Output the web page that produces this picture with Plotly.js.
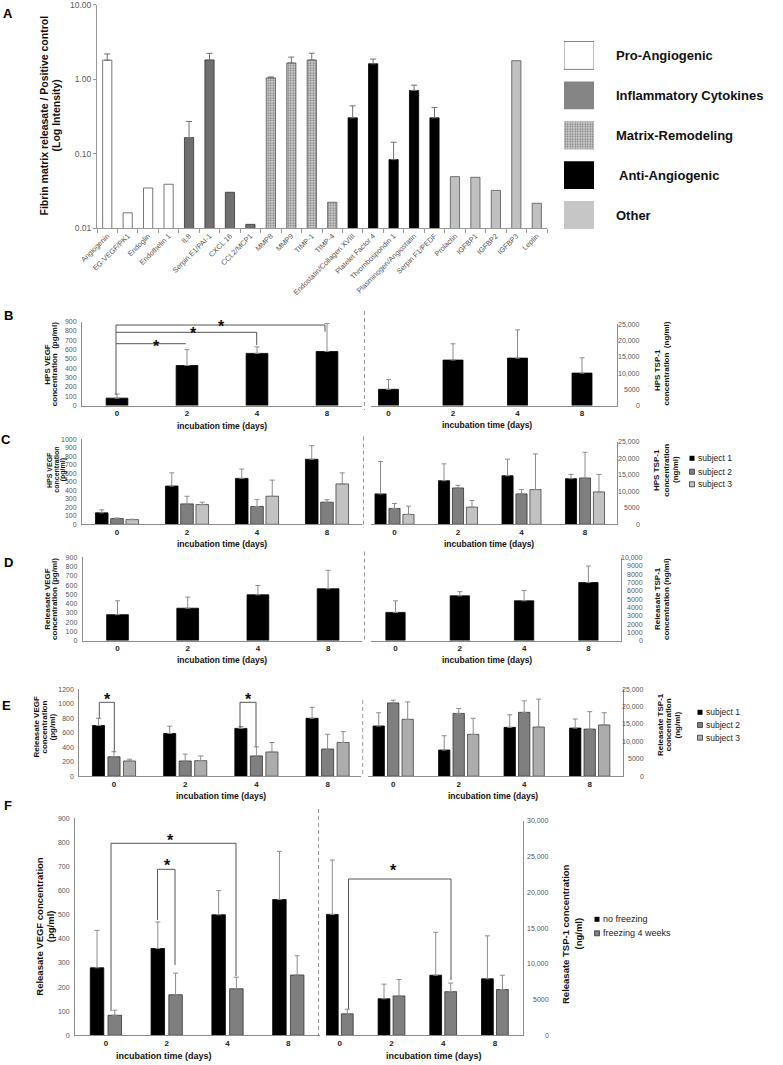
<!DOCTYPE html>
<html><head><meta charset="utf-8">
<script src="https://cdn.plot.ly/plotly-3.0.1.min.js"></script>
<style>html,body{margin:0;padding:0;background:#fff}#chart{width:783px;height:1065px}</style>
</head><body><div id="chart"></div>
<script>
// ---------------- DATA ----------------
const aCategories = ['Angiogenin','EG-VEGF/PK1','Endoglin','Endothelin 1','IL8','Serpin E1/PAI-1','CXCL 16','CCL2/MCP1','MMP8','MMP9','TIMP-1','TIMP-4','Endostatin/Collagen XVIII','Platelet Factor 4','Thrombospondin 1','Plasminogen/Angiostatin','Serpin F1/PEDF','Prolactin','IGFBP1','IGFBP2','IGFBP3','Leptin'];
const aValues = [1.80,0.016,0.0345,0.0387,0.164,1.81,0.0302,0.0112,1.04,1.65,1.81,0.0222,0.302,1.61,0.083,0.705,0.302,0.049,0.048,0.032,1.77,0.0215];
const aErrors = [0.38,NaN,NaN,NaN,0.106,0.41,NaN,NaN,0.03,0.33,0.42,NaN,0.136,0.25,0.059,0.125,0.113,NaN,NaN,NaN,NaN,NaN];
const aGroupOf = [0,0,0,0,1,1,1,1,2,2,2,2,3,3,3,3,3,4,4,4,4,4];
const aGroupNames = ['Pro-Angiogenic','Inflammatory Cytokines','Matrix-Remodeling','Anti-Angiogenic','Other'];
const aTickVals = [0.01,0.1,1,10];
const aTickText = ['0.01','0.10','1.00','10.00'];

const timeCats = ['0','2','4','8'];
const subjectNames = ['subject 1','subject 2','subject 3'];
const freezeNames = ['no freezing','freezing 4 weeks'];

// B: HPS pooled
const bVegf = [80,430,560,580];       const bVegfErr = [45,170,70,300];
const bTsp  = [5000,14000,14600,10000]; const bTspErr = [3000,5000,8700,4700];
// C: HPS per subject
const cVegfS1 = [135,450,540,765]; const cVegfS1Err = [35,155,110,160];
const cVegfS2 = [67,240,210,260];  const cVegfS2Err = [8,90,80,30];
const cVegfS3 = [55,232,330,475];  const cVegfS3Err = [5,28,190,130];
const cTspS1 = [9200,13200,14700,13800]; const cTspS1Err = [9800,5100,5000,1300];
const cTspS2 = [4800,11000,9200,14000];  const cTspS2Err = [1500,800,1300,7800];
const cTspS3 = [3000,5200,10500,9800];   const cTspS3Err = [2500,2000,10800,5300];
// D: releasate pooled
const dVegf = [280,350,495,560];        const dVegfErr = [150,120,100,200];
const dTsp  = [3400,5400,4800,7000];    const dTspErr = [1400,500,1250,2000];
// E: releasate per subject
const eVegfS1 = [700,590,660,800]; const eVegfS1Err = [100,100,25,150];
const eVegfS2 = [268,210,280,375]; const eVegfS2Err = [70,95,125,205];
const eVegfS3 = [210,215,335,465]; const eVegfS3Err = [25,65,130,150];
const eTspS1 = [14400,7500,14000,13800]; const eTspS1Err = [3800,4100,3600,2600];
const eTspS2 = [21000,18000,18300,13500]; const eTspS2Err = [800,1400,3300,5000];
const eTspS3 = [16300,12000,14100,14700]; const eTspS3Err = [5000,4600,8000,3500];
// F: freezing
const fVegfNo = [280,360,500,563]; const fVegfNoErr = [155,110,100,200];
const fVegfFr = [83,168,193,250];  const fVegfFrErr = [21,90,48,80];
const fTspNo = [16900,5100,8400,7900]; const fTspNoErr = [7600,2050,6000,6000];
const fTspFr = [3000,5500,6100,6400];  const fTspFrErr = [650,2300,1200,2000];

// tick tables
const vegf900 = [0,100,200,300,400,500,600,700,800,900];
const vegf1000 = [0,100,200,300,400,500,600,700,800,900,1000];
const vegf1200 = [0,200,400,600,800,1000,1200];
const tsp25 = [0,5000,10000,15000,20000,25000];
const tsp25Text = ['0','5000','10,000','15,000','20,000','25,000'];
const tsp10 = [0,1000,2000,3000,4000,5000,6000,7000,8000,9000,10000];
const tsp10Text = ['0','1000','2000','3000','4000','5000','6000','7000','8000','9000','10,000'];
const tsp30 = [0,5000,10000,15000,20000,25000,30000];
const tsp30Text = ['0','5000','10,000','15,000','20,000','25,000','30,000'];

// ---------------- LAYOUT HELPERS ----------------
const W = 783, H = 1065;
const X = p => p / W, Y = p => 1 - p / H;
const FONT = 'Liberation Sans, Arial, sans-serif';
const AX = '#8c8c8c';
const layout = {
  width: W, height: H, margin: {l:0,r:0,t:0,b:0},
  paper_bgcolor: '#fff', plot_bgcolor: 'rgba(0,0,0,0)',
  showlegend: false, barmode: 'overlay',
  font: {family: FONT, color: '#222'},
  shapes: [], annotations: []
};
const data = [];

function txt(t, x, y, size, opts) {
  layout.annotations.push(Object.assign({
    xref:'paper', yref:'paper', x:X(x), y:Y(y), text:t, showarrow:false,
    xanchor:'center', yanchor:'middle', font:{family:FONT, size:size, color:'#111', weight:'bold'}
  }, opts || {}));
}
function vtxt(t, x, y, size) { txt(t, x, y, size, {textangle:-90}); }
function line(x0, y0, x1, y1, color, dash, w) {
  layout.shapes.push({type:'line', xref:'paper', yref:'paper', x0:X(x0), y0:Y(y0), x1:X(x1), y1:Y(y1),
    line:{color:color||'#555', width:w||1, dash:dash||'solid'}});
}
function rect(x0, y0, x1, y1, fill, lc) {
  layout.shapes.push({type:'rect', xref:'paper', yref:'paper', x0:X(x0), y0:Y(y0), x1:X(x1), y1:Y(y1),
    fillcolor:fill, line:{color:lc||fill, width:lc?0.8:0}});
}
function star(x, y) { txt('*', x, y + 4.5, 16, {font:{family:FONT, size:16, color:'#111', weight:'bold'}}); }

function panel(n, c) {
  layout['xaxis'+n] = {
    domain:[X(c.x0), X(c.x1)], range:c.xr, type:'category', categoryorder:'array', categoryarray:timeCats,
    tickmode:'linear', tick0:0, dtick:1, anchor:'y'+n, showline:true, linecolor:AX, linewidth:1,
    ticks:'', showgrid:false, zeroline:false, fixedrange:true,
    tickfont:{family:FONT, size:8, weight:'bold', color:'#222'}, ticklabelstandoff:0
  };
  layout['yaxis'+n] = {
    domain:[Y(c.yb), Y(c.yt)], range:[0, c.ymax], anchor:'x'+n, side:c.side,
    showline:true, linecolor:AX, linewidth:1, ticks:'', showgrid:false, zeroline:false, fixedrange:true,
    tickmode:'array', tickvals:c.tv, ticktext:c.tt || c.tv.map(String),
    showticklabels:c.side === 'left', ticklabelstandoff:3, ticklabeloverflow:'allow',
    tickfont:{family:FONT, size:7, color:'#555'}
  };
  if (c.side === 'right') {
    c.tv.forEach((v, i) => layout.annotations.push({
      xref:'paper', yref:'y'+n, x:X(c.labR), y:v, text:c.tt[i], showarrow:false,
      xanchor:'right', yanchor:'middle', font:{family:FONT, size:7, color:'#555'}
    }));
  }
}
function bars(n, vals, errs, color, lc, width, offset) {
  const t = {
    type:'bar', x:timeCats, y:vals, xaxis:'x'+n, yaxis:'y'+n, width:width,
    marker:{color:color, line:{color:lc, width:0.8}},
    error_y:{type:'data', symmetric:false, array:errs, arrayminus:errs.map(() => 0), color:'#8c8c8c', thickness:1, width:2.5},
    hoverinfo:'skip'
  };
  if (offset !== undefined) t.offset = offset;
  data.push(t);
}

// ---------------- PANEL A ----------------
const speckle = {shape:'.', fgcolor:'#7a7a7a', bgcolor:'#dcdcdc', size:2.5, solidity:0.45};
const aStyles = [
  {color:'#ffffff', line:'#555'},
  {color:'#6f6f6f', line:'#333'},
  {color:'#d6d6d6', line:'#555', pattern:speckle},
  {color:'#000000', line:'#000'},
  {color:'#c0c0c0', line:'#555'}
];
aGroupNames.forEach((g, gi) => {
  const idx = aCategories.map((c, i) => i).filter(i => aGroupOf[i] === gi);
  const st = aStyles[gi];
  const mk = {color:st.color, line:{color:st.line, width:0.8}};
  if (st.pattern) mk.pattern = st.pattern;
  data.push({
    type:'bar', x:idx.map(i => aCategories[i]), y:idx.map(i => aValues[i]), width:0.45,
    xaxis:'x', yaxis:'y', marker:mk, hoverinfo:'skip',
    error_y:{type:'data', symmetric:false, array:idx.map(i => aErrors[i]),
      arrayminus:idx.map(i => isNaN(aErrors[i]) ? NaN : 0), color:'#707070', thickness:1, width:3}
  });
});
layout.xaxis = {
  domain:[X(97), X(547)], range:[-0.5, 21.5], type:'category', categoryorder:'array', categoryarray:aCategories,
  tickmode:'linear', tick0:0, dtick:1, tickangle:-45, anchor:'y', showline:true, linecolor:'#999',
  ticks:'outside', ticklen:4, tickcolor:'#999', tickson:'boundaries', showgrid:false, zeroline:false, fixedrange:true,
  tickfont:{family:FONT, size:7.3, color:'#555'}
};
layout.yaxis = {
  domain:[Y(228), Y(4.5)], type:'log', range:[-2, 1.003], anchor:'x', showline:true, linecolor:'#999',
  tickmode:'array', tickvals:aTickVals, ticktext:aTickText, ticks:'outside', ticklen:3, tickcolor:'#999',
  ticklabeloverflow:'allow',
  showgrid:false, zeroline:false, fixedrange:true, tickfont:{family:FONT, size:8.5, color:'#595959'}
};
vtxt('Fibrin matrix releasate / Positive control', 43.5, 116, 10.5);
vtxt('(Log Intensity)', 55.5, 116, 10.5);

// legend A (as bar boxes)
const legStyles = [
  {color:'#ffffff', line:'#666', lw:0.8},
  {color:'#858585', line:'#858585', lw:0},
  {color:'#d6d6d6', line:'#bbb', lw:0.5, pattern:speckle},
  {color:'#000000', line:'#000', lw:0},
  {color:'#c6c6c6', line:'#c6c6c6', lw:0}
];
aGroupNames.forEach((g, gi) => {
  const st = legStyles[gi];
  const mk = {color:st.color, line:{color:st.line, width:st.lw}};
  if (st.pattern) mk.pattern = st.pattern;
  data.push({type:'bar', orientation:'h', y:[gi], x:[1], width:0.7, xaxis:'x2', yaxis:'y2', marker:mk, hoverinfo:'skip'});
  layout.annotations.push({xref:'paper', yref:'y2', x:X(gi === 3 ? 617 : 614), y:gi, text:g, showarrow:false,
    xanchor:'left', yanchor:'middle', font:{family:FONT, size:13, color:'#111', weight:'bold'}});
});
layout.xaxis2 = {domain:[X(564), X(594)], range:[0,1], visible:false, anchor:'y2', fixedrange:true};
layout.yaxis2 = {domain:[Y(235), Y(35.5)], range:[4.5, -0.5], visible:false, anchor:'x2', fixedrange:true};

// ---------------- PANEL B ----------------
panel(3, {x0:82, x1:362, xr:[-0.5, 3.5], yb:405.6, yt:321.7, ymax:900, tv:vegf900, side:'left'});
panel(4, {x0:371, x1:617, xr:[(371-388.5)/64.5, (617-388.5)/64.5], yb:405.6, yt:324.3, ymax:25000, tv:tsp25, tt:tsp25Text, side:'right', labR:642});
bars(3, bVegf, bVegfErr, '#000', '#000', 0.31);
bars(4, bTsp, bTspErr, '#000', '#000', 0.31);
vtxt('HPS VEGF', 46.7, 364, 8); vtxt('concentration  (pg/ml)', 54.2, 364, 8);
vtxt('HPS TSP-1', 657, 370, 8); vtxt('concentration  (ng/ml)', 665.5, 364, 8);
txt('incubation time (days)', 222, 425.5, 8.5); txt('incubation time (days)', 486.7, 424.5, 8.5);
line(364.5, 311, 364.5, 410, '#999', '4px,3px');
line(116, 325, 325, 325, '#555'); line(116, 325, 116, 395, '#555'); line(325, 325, 325, 331.7, '#555');
line(116, 332.3, 256.7, 332.3, '#555'); line(256.7, 332.3, 256.7, 345, '#555');
line(116, 343.7, 185.7, 343.7, '#555');
star(221.7, 322.3); star(193.3, 329.3); star(156, 341.7);

// ---------------- PANEL C ----------------
const subjColsC = ['#000000', '#7f7f7f', '#c2c2c2'];
panel(5, {x0:82, x1:362, xr:[-0.5, 3.5], yb:524.3, yt:439.3, ymax:1000, tv:vegf1000, side:'left'});
panel(6, {x0:371, x1:616.7, xr:[(371-394.5)/63.5, (616.7-394.5)/63.5], yb:524.3, yt:441.7, ymax:25000, tv:tsp25, tt:tsp25Text, side:'right', labR:642});
bars(5, cVegfS1, cVegfS1Err, subjColsC[0], '#000', 0.18, -0.308);
bars(5, cVegfS2, cVegfS2Err, subjColsC[1], '#333', 0.18, -0.09);
bars(5, cVegfS3, cVegfS3Err, subjColsC[2], '#444', 0.18, 0.128);
bars(6, cTspS1, cTspS1Err, subjColsC[0], '#000', 0.175, -0.3075);
bars(6, cTspS2, cTspS2Err, subjColsC[1], '#333', 0.175, -0.0875);
bars(6, cTspS3, cTspS3Err, subjColsC[2], '#444', 0.175, 0.1325);
vtxt('HPS VEGF', 50, 470, 7); vtxt('concentration', 56.7, 470, 7); vtxt('(pg/ml)', 63.3, 470, 7);
vtxt('HPS TSP-1', 657, 470, 8); vtxt('concentration', 666.7, 470, 8); vtxt('(ng/ml)', 676, 470, 8);
txt('incubation time (days)', 222, 543.5, 8.5); txt('incubation time (days)', 489, 543.5, 8.5);
line(363.5, 436.5, 363.5, 528, '#999', '4px,3px');
subjectNames.forEach((s, i) => {
  const yc = [458.3, 471.7, 484.3][i];
  rect(689.5, yc - 2.5, 694.5, yc + 2.5, subjColsC[i], i ? '#333' : null);
  txt(s, 696, yc, 8.5, {xanchor:'left', font:{family:FONT, size:8.5, color:'#222'}});
});

// ---------------- PANEL D ----------------
panel(7, {x0:82.7, x1:362, xr:[(82.7-117.5)/70.2, (362-117.5)/70.2], yb:640.6, yt:557.3, ymax:900, tv:vegf900, side:'left'});
panel(8, {x0:371, x1:621, xr:[(371-395.5)/64.3, (621-395.5)/64.3], yb:640.6, yt:557.7, ymax:10000, tv:tsp10, tt:tsp10Text, side:'right', labR:645});
bars(7, dVegf, dVegfErr, '#000', '#000', 0.31);
bars(8, dTsp, dTspErr, '#000', '#000', 0.3);
vtxt('Releasate VEGF', 46.7, 599, 8); vtxt('concentration (pg/ml)', 53.9, 599, 8);
vtxt('Releasate TSP-1', 657, 599, 8); vtxt('concentration (ng/ml)', 666, 599, 8);
txt('incubation time (days)', 221.7, 659.8, 8.5); txt('incubation time (days)', 486.7, 660.3, 8.5);
line(364.5, 551.5, 364.5, 642, '#999', '4px,3px');

// ---------------- PANEL E ----------------
const subjColsE = ['#000000', '#7f7f7f', '#acacac'];
panel(9, {x0:79.3, x1:361, xr:[(79.3-114)/71.2, (361-114)/71.2], yb:776.2, yt:689.3, ymax:1200, tv:vegf1200, side:'left'});
panel(10, {x0:368, x1:623.3, xr:[(368-393.2)/65.5, (623.3-393.2)/65.5], yb:776.2, yt:689, ymax:25000, tv:tsp25, tt:tsp25Text, side:'right', labR:646});
bars(9, eVegfS1, eVegfS1Err, subjColsE[0], '#000', 0.17, -0.303);
bars(9, eVegfS2, eVegfS2Err, subjColsE[1], '#333', 0.17, -0.085);
bars(9, eVegfS3, eVegfS3Err, subjColsE[2], '#444', 0.17, 0.133);
bars(10, eTspS1, eTspS1Err, subjColsE[0], '#000', 0.173, -0.3075);
bars(10, eTspS2, eTspS2Err, subjColsE[1], '#333', 0.173, -0.0865);
bars(10, eTspS3, eTspS3Err, subjColsE[2], '#444', 0.173, 0.1345);
vtxt('Releasate VEGF', 35.5, 727, 8); vtxt('concentration', 43.5, 727, 8); vtxt('(pg/ml)', 51.5, 727, 8);
vtxt('Releasate TSP-1', 660, 725, 8); vtxt('concentration', 668.3, 725, 8); vtxt('(ng/ml)', 676.5, 725, 8);
txt('incubation time (days)', 221.5, 795.8, 8.5); txt('incubation time (days)', 492.5, 795.8, 8.5);
line(362.7, 700, 362.7, 777, '#999', '4px,3px');
line(99.3, 702.3, 114.3, 702.3, '#555'); line(99.3, 702.3, 99.3, 718.3, '#555'); line(114.3, 702.3, 114.3, 751.7, '#555');
line(240, 702.3, 256, 702.3, '#555'); line(240, 702.3, 240, 728.3, '#555'); line(256, 702.3, 256, 746.7, '#555');
star(107.7, 695); star(248.3, 695);
subjectNames.forEach((s, i) => {
  const yc = [712.3, 725, 737.7][i];
  rect(697.5, yc - 2.5, 702.5, yc + 2.5, subjColsE[i], i ? '#333' : null);
  txt(s, 704, yc, 8.5, {xanchor:'left', font:{family:FONT, size:8.5, color:'#222'}});
});

// ---------------- PANEL F ----------------
const freezeCols = ['#000000', '#7f7f7f'];
panel(11, {x0:75, x1:320, xr:[(75-105.9)/60.8, (320-105.9)/60.8], yb:1035.3, yt:818.3, ymax:900, tv:vegf900, side:'left'});
panel(12, {x0:326, x1:522.5, xr:[(326-339.8)/51.7, (522.5-339.8)/51.7], yb:1035.3, yt:820.7, ymax:30000, tv:tsp30, tt:tsp30Text, side:'right', labR:551});
bars(11, fVegfNo, fVegfNoErr, freezeCols[0], '#000', 0.222, -0.257);
bars(11, fVegfFr, fVegfFrErr, freezeCols[1], '#333', 0.222, 0.035);
bars(12, fTspNo, fTspNoErr, freezeCols[0], '#000', 0.228, -0.259);
bars(12, fTspFr, fTspFrErr, freezeCols[1], '#333', 0.228, 0.031);
vtxt('Releasate VEGF concentration', 40, 926.7, 9.5); vtxt('(pg/ml)', 50.5, 926.7, 9.5);
vtxt('Releasate TSP-1 concentration', 565, 934, 9.5); vtxt('(ng/ml)', 577.5, 934, 9.5);
txt('incubation time (days)', 164, 1056, 9); txt('incubation time (days)', 434, 1056, 9);
line(318.5, 809, 318.5, 1035, '#999', '4px,3px');
line(111, 843.3, 236, 843.3, '#555'); line(111, 843.3, 111, 1011, '#555'); line(236, 843.3, 236, 976, '#555');
line(157.5, 869.3, 175, 869.3, '#555'); line(157.5, 869.3, 157.5, 920, '#555'); line(175, 869.3, 175, 965, '#555');
line(348.5, 879, 451, 879, '#555'); line(348.5, 879, 348.5, 1009, '#555'); line(451, 879, 451, 980, '#555');
star(170, 835.7); star(167.5, 860.7); star(393.5, 866);
freezeNames.forEach((s, i) => {
  const yc = [919.3, 933.3][i];
  rect(594.5, yc - 2.5, 599.5, yc + 2.5, freezeCols[i], i ? '#333' : null);
  txt(s, 601, yc, 9, {xanchor:'left', font:{family:FONT, size:9, color:'#222'}});
});

// panel letters
[['A',8,14],['B',8,315],['C',6,440],['D',8,562],['E',6,705],['F',8,805]].forEach(p =>
  txt(p[0], p[1], p[2], 13, {font:{family:FONT, size:13, color:'#000', weight:'bold'}}));

Plotly.newPlot('chart', data, layout, {staticPlot:true, displayModeBar:false});
</script></body></html>
